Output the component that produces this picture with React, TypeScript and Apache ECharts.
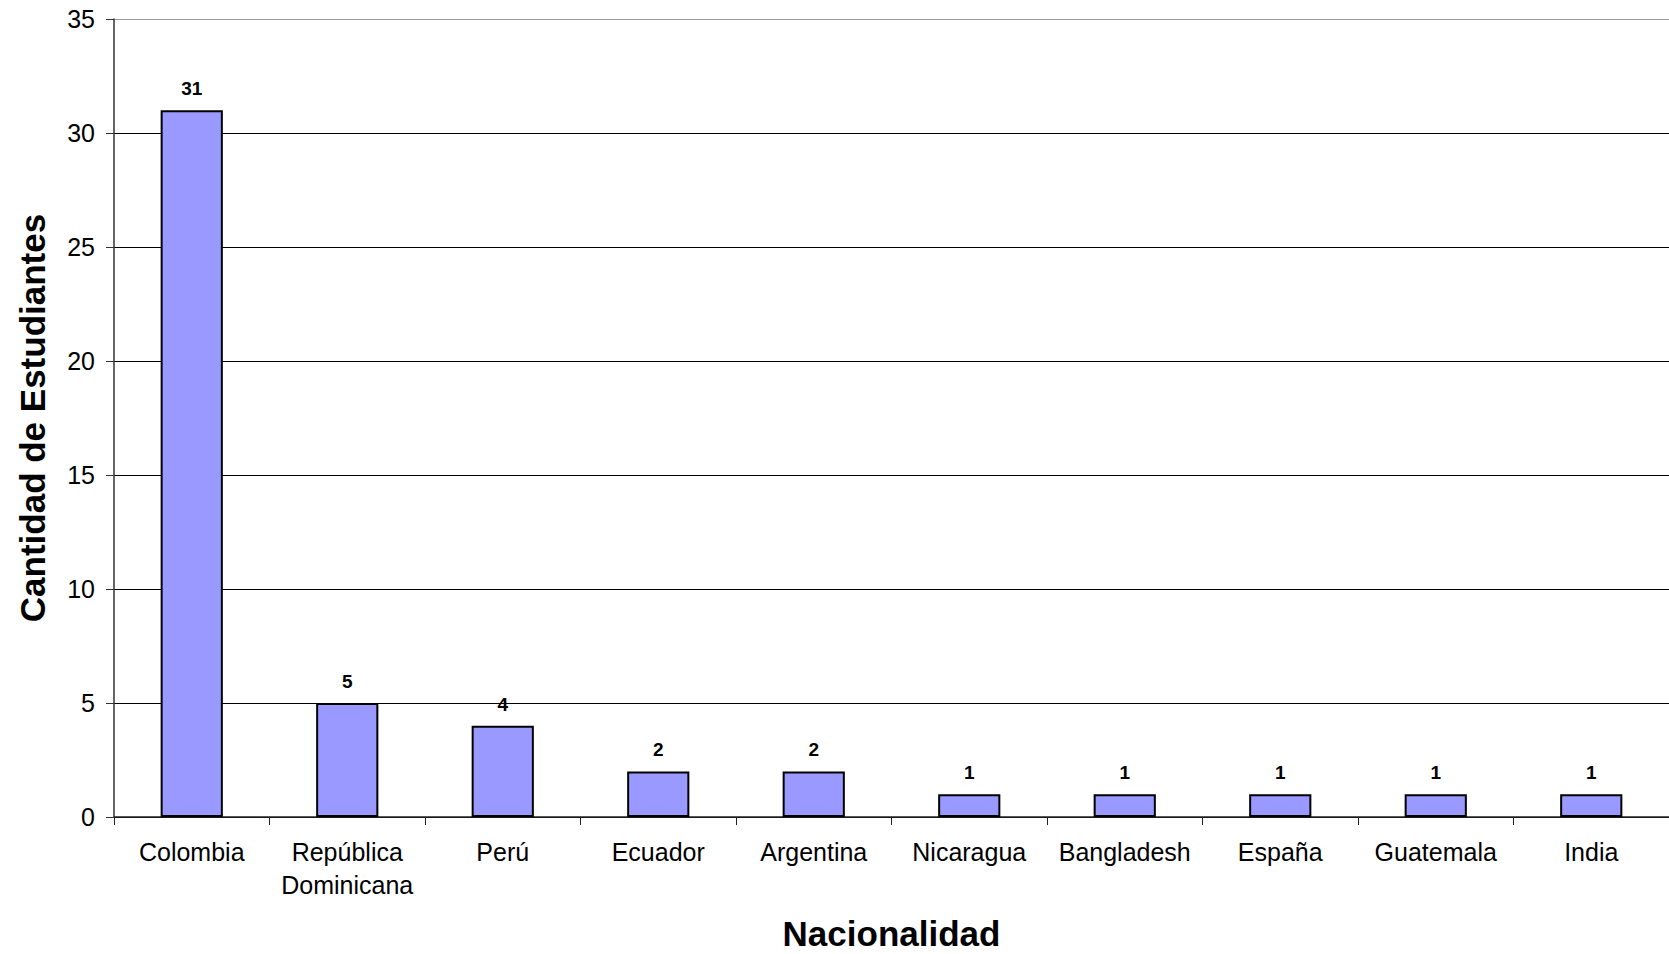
import React, { useEffect, useRef } from "react";
import * as echarts from "echarts";

const categories = [
  "Colombia",
  "República\nDominicana",
  "Perú",
  "Ecuador",
  "Argentina",
  "Nicaragua",
  "Bangladesh",
  "España",
  "Guatemala",
  "India",
];
const students = [31, 5, 4, 2, 2, 1, 1, 1, 1, 1];
const yTicks = { min: 0, max: 35, interval: 5 };

export default function App() {
  const ref = useRef<HTMLDivElement>(null);
  useEffect(() => {
    if (!ref.current) return;
    const chart = echarts.init(ref.current, undefined, { renderer: "svg" });
    const font = "'Liberation Sans', Arial, sans-serif";
    chart.setOption({
      animation: false,
      backgroundColor: "#fff",
      grid: {
        left: 114,
        right: 0,
        top: 19,
        bottom: 137,
        containLabel: false,
        outerBoundsMode: "none",
      },
      xAxis: {
        type: "category",
        data: categories,
        name: "Nacionalidad",
        nameLocation: "middle",
        nameGap: 98,
        nameTextStyle: { fontFamily: font, fontSize: 35, fontWeight: "bold", color: "#000", lineHeight: 36 },
        axisLine: { lineStyle: { color: "#222", width: 1.5 } },
        axisTick: { show: true, length: 8, lineStyle: { color: "#222" } },
        axisLabel: { fontFamily: font, fontSize: 25, color: "#000", margin: 18, lineHeight: 33, interval: 0 },
      },
      yAxis: {
        type: "value",
        min: yTicks.min,
        max: yTicks.max,
        interval: yTicks.interval,
        name: "Cantidad de Estudiantes",
        nameLocation: "middle",
        nameGap: 64,
        nameTextStyle: { fontFamily: font, fontSize: 35, fontWeight: "bold", color: "#000" },
        axisLine: { show: true, lineStyle: { color: "#333", width: 1.5 } },
        axisTick: { show: true, length: 8, lineStyle: { color: "#333" } },
        axisLabel: { fontFamily: font, fontSize: 25, color: "#000", margin: 19 },
        splitLine: {
          show: true,
          lineStyle: { color: ["#000", "#000", "#000", "#000", "#000", "#000", "#000", "#999"], width: 1 },
        },
      },
      series: [
        {
          type: "bar",
          data: students,
          barWidth: "40%",
          itemStyle: { color: "#9999FF", borderColor: "#000", borderWidth: 2 },
          label: {
            show: true,
            position: "top",
            distance: 12,
            fontFamily: font,
            fontSize: 19,
            fontWeight: "bold",
            color: "#000",
          },
        },
      ],
    });
    return () => chart.dispose();
  }, []);
  return (
    <div
      ref={ref}
      style={{ position: "fixed", left: 0, top: 0, width: 1669, height: 954 }}
    />
  );
}
